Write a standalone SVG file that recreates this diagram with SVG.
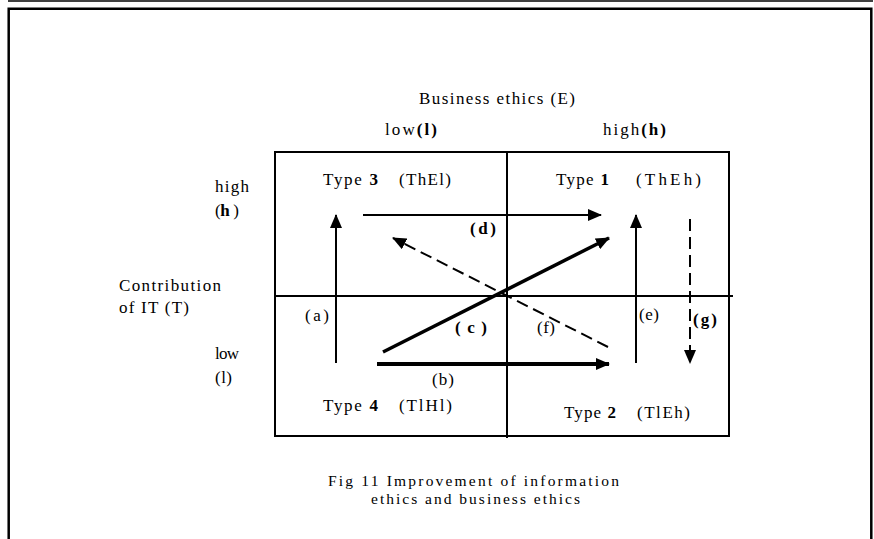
<svg xmlns="http://www.w3.org/2000/svg" width="874" height="539" viewBox="0 0 874 539">
  <defs>
    <style>
      text { font-family: "Liberation Serif", "Times New Roman", serif; font-size: 17px; fill: #000; letter-spacing: 1px; }
      .b { font-weight: bold; }
      .cap { font-size: 15.5px; }
      .frame { fill: none; stroke: #000; stroke-width: 2.5; }
      .grid { fill: none; stroke: #000; stroke-width: 2; }
      .arr { fill: none; stroke: #000; stroke-width: 2; }
      .thick { stroke-width: 4; }
      .mid { stroke-width: 3.5; }
      .dash { stroke-dasharray: 12 6; }
    </style>
    <marker id="head" viewBox="0 0 14 12" refX="13" refY="6" markerWidth="14" markerHeight="12" markerUnits="userSpaceOnUse" orient="auto">
      <path d="M0,0 L14,6 L0,12 z" fill="#000"/>
    </marker>
  </defs>

  <!-- page frame -->
  <line x1="8" y1="1" x2="873" y2="1" stroke="#000" stroke-width="1.3"/>
  <path class="frame" d="M8.7,539 V8.7 H871.3 V539"/>

  <!-- axis titles -->
  <text x="419" y="104" textLength="157" lengthAdjust="spacing">Business ethics (E)</text>
  <text x="385" y="135" textLength="53" lengthAdjust="spacing">low<tspan class="b">(l)</tspan></text>
  <text x="603" y="135" textLength="64" lengthAdjust="spacing">high<tspan class="b">(h)</tspan></text>
  <text x="215" y="192" textLength="35" lengthAdjust="spacing">high</text>
  <text x="215" y="216" textLength="25" lengthAdjust="spacing">(<tspan class="b">h</tspan> )</text>
  <text x="119" y="291" textLength="103" lengthAdjust="spacing">Contribution</text>
  <text x="119" y="313" textLength="71" lengthAdjust="spacing">of IT (T)</text>
  <text x="215" y="359" textLength="25" lengthAdjust="spacing">low</text>
  <text x="215" y="383" textLength="18" lengthAdjust="spacing">(l)</text>

  <!-- quadrant grid -->
  <g id="grid">
    <rect class="grid" x="275" y="152" width="454" height="284"/>
    <line class="grid" x1="507" y1="152" x2="507" y2="438"/>
    <line class="grid" x1="275" y1="296" x2="733" y2="296"/>
  </g>

  <!-- quadrants -->
  <g id="type3">
    <text x="323" y="185" textLength="56" lengthAdjust="spacing">Type <tspan class="b">3</tspan></text>
    <text x="399" y="185" textLength="53" lengthAdjust="spacing">(ThEl)</text>
  </g>
  <g id="type1">
    <text x="556" y="185" textLength="54" lengthAdjust="spacing">Type <tspan class="b">1</tspan></text>
    <text x="636" y="185" textLength="66" lengthAdjust="spacing">(ThEh)</text>
  </g>
  <g id="type4">
    <text x="323" y="411" textLength="56" lengthAdjust="spacing">Type <tspan class="b">4</tspan></text>
    <text x="399" y="411" textLength="54" lengthAdjust="spacing">(TlHl)</text>
  </g>
  <g id="type2">
    <text x="564" y="418" textLength="53" lengthAdjust="spacing">Type <tspan class="b">2</tspan></text>
    <text x="637" y="418" textLength="54" lengthAdjust="spacing">(TlEh)</text>
  </g>

  <!-- improvement paths -->
  <g id="connectors">
    <line class="arr" x1="336" y1="363" x2="336" y2="215" marker-end="url(#head)"/>
    <line class="arr" x1="363" y1="215" x2="601" y2="215" marker-end="url(#head)"/>
    <line class="arr dash" x1="608" y1="347" x2="393" y2="238" marker-end="url(#head)"/>
    <line class="arr mid" x1="383" y1="352" x2="609" y2="238" marker-end="url(#head)"/>
    <line class="arr thick" x1="377" y1="364" x2="609" y2="364" marker-end="url(#head)"/>
    <line class="arr" x1="636" y1="363" x2="636" y2="215" marker-end="url(#head)"/>
    <line class="arr dash" x1="690" y1="219" x2="690" y2="363" marker-end="url(#head)"/>
  </g>

  <!-- path labels -->
  <text x="305" y="321" textLength="25" lengthAdjust="spacing">(a)</text>
  <text x="432" y="385" textLength="23" lengthAdjust="spacing">(b)</text>
  <text class="b" x="455" y="333" textLength="33" lengthAdjust="spacing">( c )</text>
  <text class="b" x="470" y="234" textLength="27" lengthAdjust="spacing">( d )</text>
  <text x="639" y="320" textLength="21" lengthAdjust="spacing">(e)</text>
  <text x="537" y="333" textLength="19" lengthAdjust="spacing">(f)</text>
  <text class="b" x="693" y="325" textLength="25" lengthAdjust="spacing">( g )</text>

  <!-- caption -->
  <text class="cap" x="328" y="486" textLength="292" lengthAdjust="spacing">Fig 11 Improvement of information</text>
  <text class="cap" x="371" y="504" textLength="210" lengthAdjust="spacing">ethics and business ethics</text>
</svg>
